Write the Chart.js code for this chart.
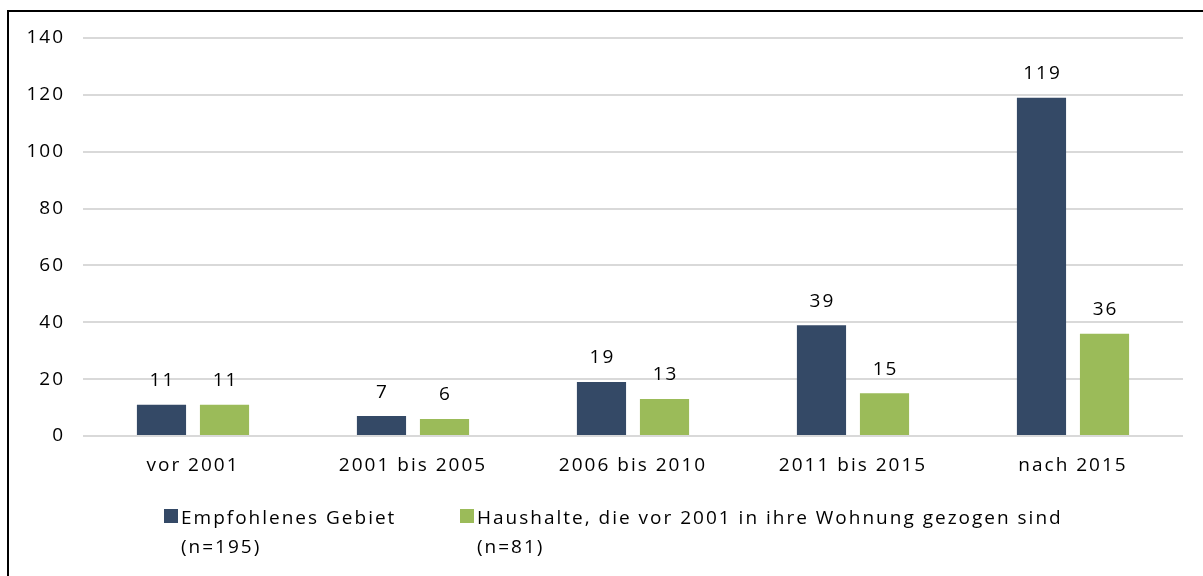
<!DOCTYPE html>
<html>
<head>
<meta charset="utf-8">
<script src="https://cdn.jsdelivr.net/npm/chart.js@4.4.1/dist/chart.umd.min.js"></script>
<style>
    body { margin: 0; background: #fff; overflow: hidden; }
    .wrap { position: relative; width: 1203px; height: 576px; }
    .frame { position: absolute; left: 7px; top: 10px; width: 1300px; height: 700px; border: 2px solid #000; box-sizing: border-box; }
    canvas { position: absolute; left: 0; top: 0; }
    .legend { position: absolute; top: 503px; left: 0; font-family: "Open Sans", sans-serif; font-size: 19px; letter-spacing: 2px; color: #000; }
    .legend-item { position: absolute; white-space: nowrap; line-height: 29px; }
    .legend-item .box { position: absolute; left: 0; top: 6px; width: 14px; height: 14px; }
    .legend-item .txt { position: absolute; left: 17px; top: 0; }
</style>
</head>
<body>
<div class="wrap">
    <div class="frame"></div>
    <canvas id="chart" width="1203" height="576"></canvas>
    <div class="legend" id="legend"></div>
</div>
<script>
    const categories = ["vor 2001", "2001 bis 2005", "2006 bis 2010", "2011 bis 2015", "nach 2015"];
    const empfohlen = [11, 7, 19, 39, 119];
    const haushalte = [11, 6, 13, 15, 36];
    const seriesLabels = [
        ["Empfohlenes Gebiet", "(n=195)"],
        ["Haushalte, die vor 2001 in ihre Wohnung gezogen sind", "(n=81)"]
    ];
    const yTicks = [0, 20, 40, 60, 80, 100, 120, 140];
    const colors = ["#344966", "#9BBB59"];
    const fontFamily = "'Open Sans', sans-serif";

    // wider text spacing, the original font is a wide one
    const spacing = {
        id: "spacing",
        beforeLayout(chart) { chart.ctx.letterSpacing = "2px"; },
        beforeDraw(chart) { chart.ctx.letterSpacing = "2px"; }
    };

    // draws the numbers above the bars
    const valueLabels = {
        id: "valueLabels",
        afterDatasetsDraw(chart) {
            const ctx = chart.ctx;
            ctx.save();
            ctx.font = "19px " + fontFamily;
            ctx.fillStyle = "#000";
            ctx.textAlign = "center";
            ctx.textBaseline = "middle";
            chart.data.datasets.forEach((ds, i) => {
                chart.getDatasetMeta(i).data.forEach((bar, j) => {
                    ctx.fillText(ds.data[j], bar.x + 1, bar.y - 24);
                });
            });
            ctx.restore();
        }
    };

    const chart = new Chart(document.getElementById("chart"), {
        type: "bar",
        data: {
            labels: categories,
            datasets: [{
                label: seriesLabels[0].join(" "),
                data: empfohlen,
                backgroundColor: colors[0],
                barPercentage: 0.78,
                categoryPercentage: 0.573
            }, {
                label: seriesLabels[1].join(" "),
                data: haushalte,
                backgroundColor: colors[1],
                barPercentage: 0.78,
                categoryPercentage: 0.573
            }]
        },
        options: {
            responsive: false,
            animation: false,
            layout: { padding: { left: 0, right: 20, top: 38, bottom: 0 } },
            plugins: {
                legend: { display: false },
                tooltip: { enabled: false }
            },
            scales: {
                x: {
                    grid: { display: false, drawTicks: false },
                    border: { display: false },
                    ticks: { color: "#000", padding: 18, font: { family: fontFamily, size: 19 } },
                    afterFit: (scale) => { scale.height = 140; }
                },
                y: {
                    min: 0,
                    max: 140,
                    afterBuildTicks: (scale) => { scale.ticks = yTicks.map((v) => ({ value: v })); },
                    grid: { color: "#D9D9D9", lineWidth: 2, drawTicks: false },
                    border: { display: false },
                    ticks: { color: "#000", padding: 18, font: { family: fontFamily, size: 19 } },
                    afterFit: (scale) => { scale.width = 83; }
                }
            }
        },
        plugins: [spacing, valueLabels]
    });

    // HTML legend built from the datasets
    const legendEl = document.getElementById("legend");
    const legendLeft = [164, 460];
    chart.data.datasets.forEach((ds, i) => {
        const item = document.createElement("div");
        item.className = "legend-item";
        item.style.left = legendLeft[i] + "px";
        item.innerHTML = `<span class="box" style="background:${ds.backgroundColor}"></span>
            <span class="txt">${seriesLabels[i].join("<br>")}</span>`;
        legendEl.appendChild(item);
    });
</script>
</body>
</html>
